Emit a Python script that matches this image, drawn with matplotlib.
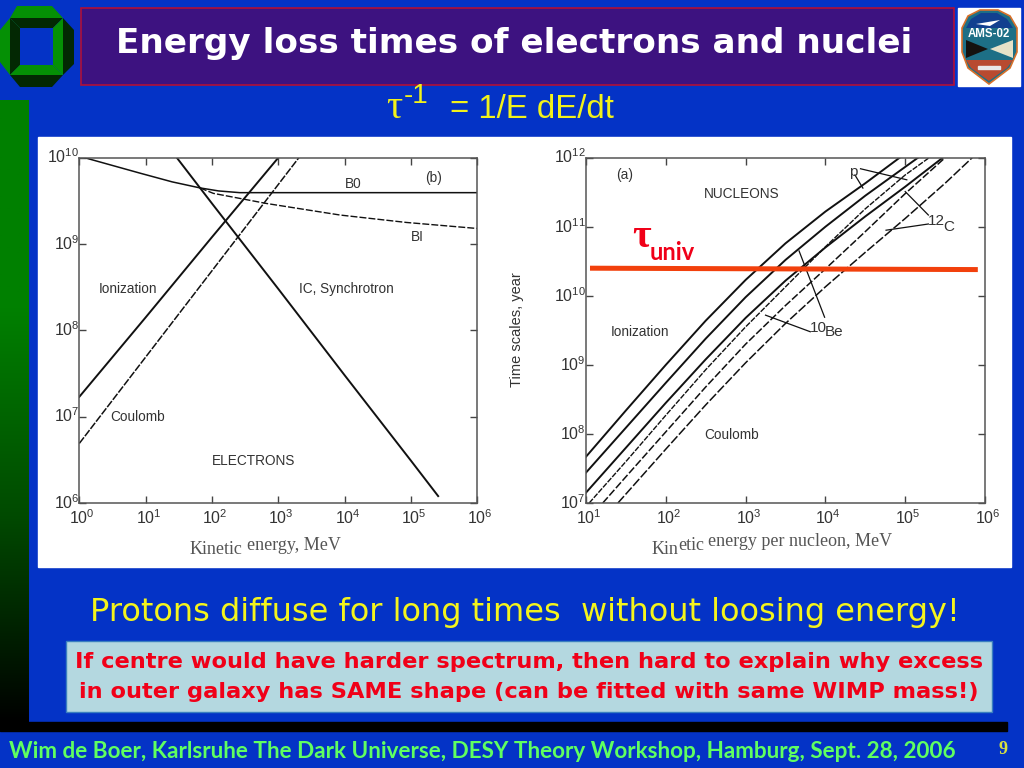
import numpy as np
import matplotlib
matplotlib.use('Agg')
import matplotlib.pyplot as plt
from matplotlib.colors import LinearSegmentedColormap
from matplotlib.patches import Polygon, Rectangle
from matplotlib.transforms import ScaledTranslation

plt.rcParams['font.family'] = ['Liberation Sans', 'DejaVu Sans']
plt.rcParams['mathtext.default'] = 'regular'

W, H = 1024, 768
BLUE = '#0433c6'
INK = '#333333'

# electrons panel, log10 values
ion_e_x = [0, 1, 2, 3]
ion_e_y = [7.23, 8.15, 9.08, 10]
coul_e_x = [0, 1, 2, 3, 3.31]
coul_e_y = [6.69, 7.69, 8.69, 9.69, 10]
ic_x = [1.47, 2, 3, 4, 5, 5.41]
ic_y = [10, 9.47, 8.48, 7.48, 6.49, 6.08]
b0_x = [0.08, 0.5, 0.92, 1.4, 1.82, 2.1, 2.42, 3, 4, 5, 6]
b0_y = [10, 9.91, 9.82, 9.72, 9.65, 9.615, 9.595, 9.595, 9.595, 9.595, 9.595]
bi_x = [1.82, 2.02, 2.82, 3.93, 4.93, 6]
bi_y = [9.65, 9.587, 9.47, 9.336, 9.25, 9.18]

# nucleons panel
p_x = [1, 1.5, 2, 2.5, 3, 3.5, 4, 4.5, 4.93]
p_y = [7.67, 8.34, 9.0, 9.64, 10.23, 10.76, 11.22, 11.63, 12]
be_x = [1, 1.5, 2, 2.5, 3, 3.5, 4, 4.5, 5.16]
be_y = [7.44, 8.09, 8.74, 9.38, 9.98, 10.52, 11.0, 11.45, 12]
c_x = [1, 1.5, 2, 2.5, 3, 3.5, 4, 4.5, 5, 5.47]
c_y = [7.15, 7.8, 8.45, 9.08, 9.68, 10.22, 10.7, 11.15, 11.58, 12]
p_c_x = [1.04, 1.5, 2, 2.5, 3, 3.5, 4, 4.5, 5, 5.3]
p_c_y = [7, 7.6, 8.27, 8.93, 9.55, 10.13, 10.71, 11.26, 11.75, 12]
be_c_x = [1.21, 1.5, 2, 2.5, 3, 3.5, 4, 4.5, 5, 5.5]
be_c_y = [7, 7.38, 8.03, 8.68, 9.3, 9.86, 10.39, 10.93, 11.48, 12]
c_c_x = [1.4, 2, 2.5, 3, 3.5, 4, 4.5, 5, 5.5, 5.84]
c_c_y = [7, 7.78, 8.42, 9.03, 9.6, 10.13, 10.63, 11.12, 11.63, 12]
univ_x = [1.05, 5.91]
univ_y = [10.40, 10.38]

leaders = [
    ([4.44, 5.02], [11.84, 11.68]),
    ([4.37, 4.47], [11.75, 11.56]),
    ([5.29, 5.0], [11.17, 11.51]),
    ([5.29, 4.76], [11.04, 10.95]),
    ([3.99, 3.67], [9.69, 10.65]),
    ([3.81, 3.25], [9.48, 9.72]),
]


def log10_line(ax, xs, ys, **kw):
    return ax.plot(10.0 ** np.array(xs), 10.0 ** np.array(ys), color='#111111', **kw)


def setup_panel(box, xlim, ylim):
    left, top, right, bottom = box
    ax = fig.add_axes([left / W, 1 - bottom / H, (right - left) / W, (bottom - top) / H], zorder=2)
    ax.set_xscale('log')
    ax.set_yscale('log')
    ax.set_xlim(10.0 ** xlim[0], 10.0 ** xlim[1])
    ax.set_ylim(10.0 ** ylim[0], 10.0 ** ylim[1])
    xt = range(xlim[0], xlim[1] + 1)
    yt = range(ylim[0], ylim[1] + 1)
    ax.set_xticks([10.0 ** i for i in xt], ['$10^{%d}$' % i for i in xt])
    ax.set_yticks([10.0 ** i for i in yt], ['$10^{%d}$' % i for i in yt])
    ax.minorticks_off()
    ax.tick_params(which='major', direction='in', top=True, right=True, length=5, width=1,
                   color='#444444', labelsize=11.5, labelcolor=INK, pad=2)
    # labels sit a little up and right of their ticks in the scan
    nudge_y = ScaledTranslation(2 / 72, 1.5 / 72, fig.dpi_scale_trans)
    nudge_x = ScaledTranslation(2 / 72, -2 / 72, fig.dpi_scale_trans)
    for lab in ax.get_yticklabels():
        lab.set_transform(lab.get_transform() + nudge_y)
    for lab in ax.get_xticklabels():
        lab.set_transform(lab.get_transform() + nudge_x)
    for s in ax.spines.values():
        s.set_color('#555555')
        s.set_linewidth(1.1)
    return ax


def note(ax, x, y, s, size=9.8, **kw):
    ax.text(10.0 ** x, 10.0 ** y, s, fontsize=size, color=INK, va='center', **kw)


fig = plt.figure(figsize=(W / 100, H / 100), dpi=100, facecolor=BLUE)

# slide layer in pixel coordinates
bg = fig.add_axes([0, 0, 1, 1], zorder=0)
bg.set_xlim(0, W)
bg.set_ylim(H, 0)
bg.axis('off')

fade = LinearSegmentedColormap.from_list('fade', ['#008000', '#008000', '#004a00', '#000000'])
bg.imshow(np.linspace(0, 1, 256).reshape(-1, 1), cmap=fade, extent=(0, 29, 724, 100), aspect='auto')
bg.set_xlim(0, W)
bg.set_ylim(H, 0)
bg.add_patch(Rectangle((0, 722), 1007, 9, color='black'))

# university logo
GREEN = '#059005'
DARK = '#032803'
for pts, col in [
    ([(17, 6), (52, 6), (63, 18), (10, 18)], GREEN),
    ([(10, 18), (63, 18), (53, 28), (20, 28)], DARK),
    ([(0, 30), (10, 18), (20, 28), (20, 65), (10, 75), (0, 62)], GREEN),
    ([(10, 18), (20, 28), (20, 65), (10, 75)], DARK),
    ([(63, 18), (53, 28), (53, 65), (63, 75)], GREEN),
    ([(63, 18), (74, 30), (74, 64), (63, 75)], DARK),
    ([(20, 65), (53, 65), (63, 75), (10, 75)], GREEN),
    ([(10, 75), (63, 75), (52, 87), (20, 87)], DARK),
]:
    bg.add_patch(Polygon(pts, closed=True, color=col, lw=0))

# title bar
bg.add_patch(Rectangle((81, 8), 873, 77, facecolor='#3d1280', edgecolor='#b01038', lw=1.2))
bg.text(514, 43, 'Energy loss times of electrons and nuclei', color='white', fontsize=24.7,
        family='DejaVu Sans', weight='bold', ha='center', va='center')

# mission patch
bg.add_patch(Rectangle((958, 8), 62, 78, color='white'))
bg.add_patch(Polygon([(962, 28), (968, 16), (980, 10), (998, 10), (1010, 16), (1017, 28), (1017, 52),
                      (1010, 68), (989, 84), (968, 68), (962, 52)], closed=True,
                     facecolor='#1d6f86', edgecolor='#d8702a', lw=1.2))
bg.add_patch(Polygon([(966, 28), (971, 19), (981, 13), (997, 13), (1007, 19), (1013, 28)], closed=True,
                     color='#12408f', lw=0))
bg.add_patch(Polygon([(966, 40), (988, 49), (966, 58)], closed=True, color='#15120f', lw=0))
bg.add_patch(Polygon([(1013, 40), (990, 49), (1013, 58)], closed=True, color='#e6e2c8', lw=0))
bg.add_patch(Polygon([(966, 60), (1013, 60), (1007, 68), (989, 81), (971, 68)], closed=True,
                     color='#b84a30', lw=0))
bg.text(989, 34, 'AMS-02', color='white', fontsize=8.3, weight='bold', ha='center', va='center')
bg.add_patch(Polygon([(976, 24), (1000, 20), (990, 26)], closed=True, color='white', lw=0))
bg.add_patch(Rectangle((978, 66), 22, 3, color='#e8e8e8'))

# formula line
bg.text(394, 109, '\u03c4', color='#f2f21a', fontsize=29, family='Liberation Serif', ha='center', va='center')
bg.text(416, 96, '-1', color='#f2f21a', fontsize=20, ha='center', va='center')
bg.text(450, 110, '= 1/E dE/dt', color='#f2f21a', fontsize=23.7, ha='left', va='center')

# white panel behind both plots
bg.add_patch(Rectangle((38, 137), 973, 430, color='white'))

bg.text(190, 549, 'Kinetic', color='#555555', fontsize=13, family='Liberation Serif', va='center')
bg.text(247, 545, 'energy, MeV', color='#555555', fontsize=13, family='Liberation Serif', va='center')
bg.text(652, 549, 'Kin', color='#555555', fontsize=13, family='Liberation Serif', va='center')
bg.text(678, 545, 'etic', color='#555555', fontsize=13, family='Liberation Serif', va='center')
bg.text(708, 541, 'energy per nucleon, MeV', color='#555555', fontsize=13, family='Liberation Serif', va='center')
bg.text(517, 330, 'Time scales, year', color=INK, fontsize=10.5, rotation=90, ha='center', va='center')

# lower texts
bg.text(525, 612, 'Protons diffuse for long times  without loosing energy!', color='#f4f41c', fontsize=23,
        family='DejaVu Sans', ha='center', va='center')
bg.add_patch(Rectangle((66, 641), 926, 71, facecolor='#b4d8e0', edgecolor='#3a7fc0', lw=1))
bg.text(529, 662, 'If centre would have harder spectrum, then hard to explain why excess', color='#f00018',
        fontsize=16.2, family='DejaVu Sans', weight='bold', ha='center', va='center')
bg.text(529, 692, 'in outer galaxy has SAME shape (can be fitted with same WIMP mass!)', color='#f00018',
        fontsize=16.2, family='DejaVu Sans', weight='bold', ha='center', va='center')
bg.text(482, 751, 'Wim de Boer, Karlsruhe The Dark Universe, DESY Theory Workshop, Hamburg, Sept. 28, 2006',
        color='#60ff60', fontsize=16.2, family='Lato', weight='bold', ha='center', va='center')
bg.text(1003, 750, '9', color='#d8e040', fontsize=13, family='Liberation Serif', weight='bold', ha='center', va='center')

# electrons
ax1 = setup_panel((79.3, 157.7, 477.3, 503), (0, 6), (6, 10))
log10_line(ax1, ion_e_x, ion_e_y, lw=1.4)
log10_line(ax1, coul_e_x, coul_e_y, lw=1.1, ls=(0, (5, 1)))
log10_line(ax1, ic_x, ic_y, lw=1.4)
log10_line(ax1, b0_x, b0_y, lw=1.1)
log10_line(ax1, bi_x, bi_y, lw=1.0, ls=(0, (5, 1.5)))
note(ax1, 0.30, 8.48, 'Ionization')
note(ax1, 3.31, 8.48, 'IC, Synchrotron')
note(ax1, 0.47, 7.0, 'Coulomb')
note(ax1, 2.0, 6.49, 'ELECTRONS')
note(ax1, 4.0, 9.70, 'B0')
note(ax1, 5.22, 9.77, '(b)')
note(ax1, 5.0, 9.08, 'BI')

# nucleons
ax2 = setup_panel((586, 157.7, 985, 503), (1, 6), (7, 12))
log10_line(ax2, p_x, p_y, lw=1.4)
log10_line(ax2, be_x, be_y, lw=1.4)
log10_line(ax2, c_x, c_y, lw=1.4)
log10_line(ax2, p_c_x, p_c_y, lw=1.0, ls=(0, (4, 1)))
log10_line(ax2, be_c_x, be_c_y, lw=1.1, ls=(0, (5, 1.5)))
log10_line(ax2, c_c_x, c_c_y, lw=1.1, ls=(0, (6, 1.5)))
for lx, ly in leaders:
    log10_line(ax2, lx, ly, lw=0.9)
ax2.plot(10.0 ** np.array(univ_x), 10.0 ** np.array(univ_y), color='#f2400c', lw=3.6, solid_capstyle='butt')
note(ax2, 1.38, 11.75, '(a)')
note(ax2, 2.48, 11.47, 'NUCLEONS')
note(ax2, 1.31, 9.48, 'Ionization')
note(ax2, 2.48, 7.99, 'Coulomb')
note(ax2, 4.3, 11.8, 'p', size=11)
note(ax2, 5.29, 11.08, '12', size=11)
note(ax2, 5.48, 11.0, 'C', size=11)
note(ax2, 3.81, 9.54, '10', size=11)
note(ax2, 3.995, 9.47, 'Be', size=11)
ax2.text(10.0 ** 1.58, 10.0 ** 10.85, '\u03c4', color='#f00018', fontsize=29, family='Liberation Serif', weight='bold',
         ha='left', va='center')
ax2.text(10.0 ** 1.80, 10.0 ** 10.63, 'univ', color='#f00018', fontsize=17, family='Lato', weight='bold',
         ha='left', va='center')

fig.savefig('out.png', dpi=100, facecolor=BLUE)
